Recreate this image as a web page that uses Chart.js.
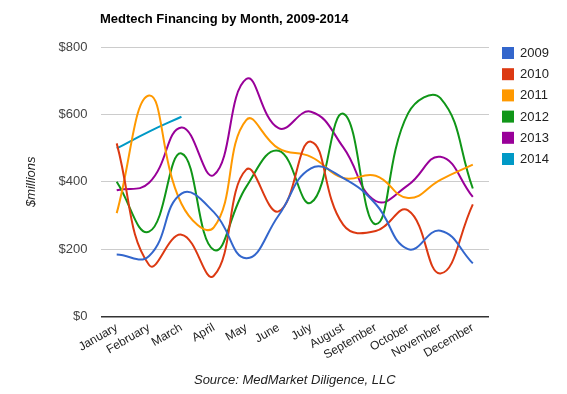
<!DOCTYPE html>
<html>
<head>
<meta charset="utf-8">
<script src="https://cdn.jsdelivr.net/npm/chart.js@4"></script>
<style>
  html, body { margin: 0; padding: 0; background: #fff; }
  #wrap { width: 567px; height: 394px; }
</style>
</head>
<body>
<div id="wrap"><canvas id="chart" width="567" height="394"></canvas></div>
<script>
// Data
const months = ['January', 'February', 'March', 'April', 'May', 'June', 'July', 'August', 'September', 'October', 'November', 'December'];
const y2009 = [184, 180, 365, 310, 173, 300, 440, 411, 334, 200, 255, 158];
const y2010 = [514, 153, 243, 121, 436, 312, 519, 272, 254, 315, 128, 333];
const y2011 = [307, 656, 335, 265, 583, 499, 474, 411, 418, 352, 406, 451];
const y2012 = [400, 252, 484, 198, 385, 492, 338, 602, 274, 603, 648, 380];
const y2013 = [375, 397, 561, 420, 705, 559, 608, 502, 343, 390, 474, 355];
const y2014 = [499, 549, 593];
const yTicks = [0, 200, 400, 600, 800];

const font = 'Arial, "Liberation Sans", sans-serif';

function series(label, data, color) {
    return {
        label: label,
        data: data,
        borderColor: color,
        backgroundColor: color,
        borderWidth: 2,
        pointRadius: 0,
        tension: 0.45,
        fill: false
    };
}

// Title and legend drawn by hand so they sit where the original has them
const decorPlugin = {
    id: 'decor',
    afterDraw(chart) {
        const ctx = chart.ctx;
        ctx.save();
        ctx.fillStyle = '#000';
        ctx.font = 'bold 13px ' + font;
        ctx.textBaseline = 'middle';
        ctx.textAlign = 'left';
        ctx.fillText('Medtech Financing by Month, 2009-2014', 100, 19);

        ctx.font = '13px ' + font;
        chart.data.datasets.forEach((ds, i) => {
            const y = 47 + i * 21.2;
            ctx.fillStyle = ds.borderColor;
            ctx.fillRect(502, y, 12, 12);
            ctx.fillStyle = '#222';
            ctx.fillText(ds.label, 520, y + 6.5);
        });
        ctx.restore();
    }
};

const ctx = document.getElementById('chart').getContext('2d');
new Chart(ctx, {
    type: 'line',
    data: {
        labels: months,
        datasets: [
            series('2009', y2009, '#3366cc'),
            series('2010', y2010, '#dc3912'),
            series('2011', y2011, '#ff9900'),
            series('2012', y2012, '#109618'),
            series('2013', y2013, '#990099'),
            series('2014', y2014, '#0099c6')
        ]
    },
    options: {
        responsive: false,
        animation: false,
        layout: { padding: { top: 47, left: 16, right: 78, bottom: 6 } },
        plugins: {
            title: { display: false },
            tooltip: { enabled: false },
            legend: { display: false }
        },
        scales: {
            x: {
                offset: true,
                grid: { display: false, drawTicks: false },
                border: { display: false },
                ticks: {
                    color: '#222',
                    font: { family: font, size: 12 },
                    minRotation: 30,
                    maxRotation: 30,
                    autoSkip: false,
                    padding: 4
                },
                title: {
                    display: true,
                    text: 'Source: MedMarket Diligence, LLC',
                    color: '#222',
                    font: { family: font, size: 13, style: 'italic' },
                    padding: { top: 6, bottom: 0 }
                }
            },
            y: {
                min: 0,
                max: 800,
                afterBuildTicks(axis) {
                    axis.ticks = yTicks.map(v => ({ value: v }));
                },
                grid: {
                    drawTicks: false,
                    color: c => c.tick.value === 0 ? '#333' : '#cccccc',
                    lineWidth: c => c.tick.value === 0 ? 1.5 : 1
                },
                border: { display: false },
                ticks: {
                    color: '#444',
                    padding: 13,
                    font: { family: font, size: 13 },
                    callback: v => '$' + v
                },
                title: {
                    display: true,
                    text: '$millions',
                    color: '#222',
                    font: { family: font, size: 13, style: 'italic' },
                    padding: { top: 8, bottom: 6 }
                }
            }
        }
    },
    plugins: [decorPlugin]
});
</script>
</body>
</html>
